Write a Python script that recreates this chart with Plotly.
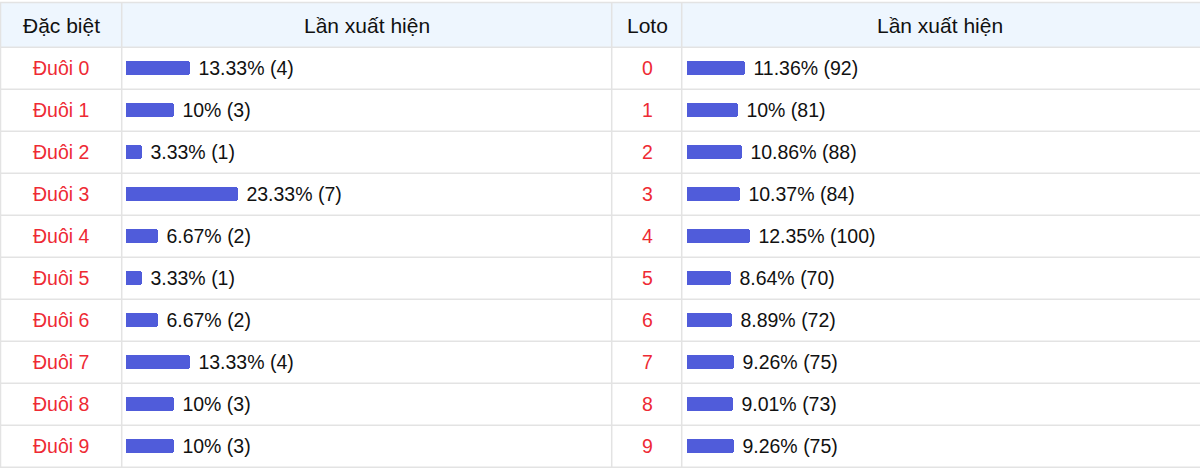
import plotly.graph_objects as go

# ---- data ----
db_labels = ["Đuôi 0", "Đuôi 1", "Đuôi 2", "Đuôi 3", "Đuôi 4",
             "Đuôi 5", "Đuôi 6", "Đuôi 7", "Đuôi 8", "Đuôi 9"]
db_pct = [13.33, 10, 3.33, 23.33, 6.67, 3.33, 6.67, 13.33, 10, 10]
db_cnt = [4, 3, 1, 7, 2, 1, 2, 4, 3, 3]

loto_labels = ["0", "1", "2", "3", "4", "5", "6", "7", "8", "9"]
loto_pct = [11.36, 10, 10.86, 10.37, 12.35, 8.64, 8.89, 9.26, 9.01, 9.26]
loto_cnt = [92, 81, 88, 84, 100, 70, 72, 75, 73, 75]

headers = ["Đặc biệt", "Lần xuất hiện", "Loto", "Lần xuất hiện"]

def fmt(p):
    s = f"{p:.2f}".rstrip("0").rstrip(".")
    return s

W, H = 1200, 469
ROW0 = 68      # pixel center of first row
PITCH = 42
BAR_COLOR = "#505CDA"
RED = "#EE2A34"
LINE = "#E3E3E3"
FONT = "Liberation Sans, Arial, sans-serif"
FS = 19.5
LFS = 19.5
HFS = 21

idx = list(range(len(db_labels)))
y_top = -ROW0 / PITCH
y_bot = (H - ROW0) / PITCH

fig = go.Figure()
for xa, pct, cnt in [("x", db_pct, db_cnt), ("x2", loto_pct, loto_cnt)]:
    fig.add_trace(go.Bar(
        x=pct, y=idx, orientation="h", xaxis=xa, yaxis="y",
        marker=dict(color=BAR_COLOR, cornerradius=3, line=dict(width=0)),
        width=14 / PITCH,
        text=[f" {fmt(p)}% ({c})" for p, c in zip(pct, cnt)],
        textposition="outside", cliponaxis=False, constraintext="none",
        textfont=dict(size=FS, color="#111111", family=FONT),
        hoverinfo="skip", showlegend=False,
    ))

shapes = []
# header background
shapes.append(dict(type="rect", xref="paper", yref="paper",
                   x0=0, x1=1, y0=1 - 47 / H, y1=1 - 3 / H,
                   fillcolor="#EEF6FE", line=dict(width=0), layer="below"))
# horizontal lines
for yp in [2.5] + [47.3 + PITCH * i for i in range(11)]:
    yp = min(yp, 467.8)
    shapes.append(dict(type="line", xref="paper", yref="paper",
                       x0=0, x1=1, y0=1 - yp / H, y1=1 - yp / H,
                       line=dict(color=LINE, width=1.5), layer="below"))
# vertical lines
for xp in [0.5, 121.7, 611.7, 681.7]:
    shapes.append(dict(type="line", xref="paper", yref="paper",
                       x0=xp / W, x1=xp / W, y0=1 - 467.8 / H, y1=1 - 2.5 / H,
                       line=dict(color=LINE, width=1.5), layer="below"))

ann = []
for xc, t in zip([61, 367, 647, 940], headers):
    ann.append(dict(x=xc / W, y=1 - 25 / H, xref="paper", yref="paper",
                    text=t, showarrow=False, xanchor="center", yanchor="middle",
                    font=dict(size=HFS, color="#111111", family=FONT)))
for i, t in enumerate(db_labels):
    ann.append(dict(x=61 / W, y=i, xref="paper", yref="y", text=t,
                    showarrow=False, xanchor="center", yanchor="middle",
                    font=dict(size=LFS, color=RED, family=FONT)))
for i, t in enumerate(loto_labels):
    ann.append(dict(x=647 / W, y=i, xref="paper", yref="y", text=t,
                    showarrow=False, xanchor="center", yanchor="middle",
                    font=dict(size=LFS, color=RED, family=FONT)))

ax_common = dict(range=[0, 100], showgrid=False, zeroline=False,
                 showticklabels=False, showline=False, fixedrange=True)
fig.update_layout(
    width=W, height=H, margin=dict(l=0, r=0, t=0, b=0),
    paper_bgcolor="white", plot_bgcolor="rgba(0,0,0,0)",
    xaxis=dict(domain=[126 / W, 606 / W], **ax_common),
    xaxis2=dict(domain=[687 / W, 1194 / W], anchor="y", **ax_common),
    yaxis=dict(range=[y_bot, y_top], domain=[0, 1], showgrid=False,
               zeroline=False, showticklabels=False, showline=False,
               fixedrange=True),
    shapes=shapes, annotations=ann, bargap=0,
    font=dict(family=FONT),
)

fig.write_html(
    "out.html",
    config={"displayModeBar": False},
    post_script="document.body.style.margin='0';document.body.style.overflow='hidden';",
)
